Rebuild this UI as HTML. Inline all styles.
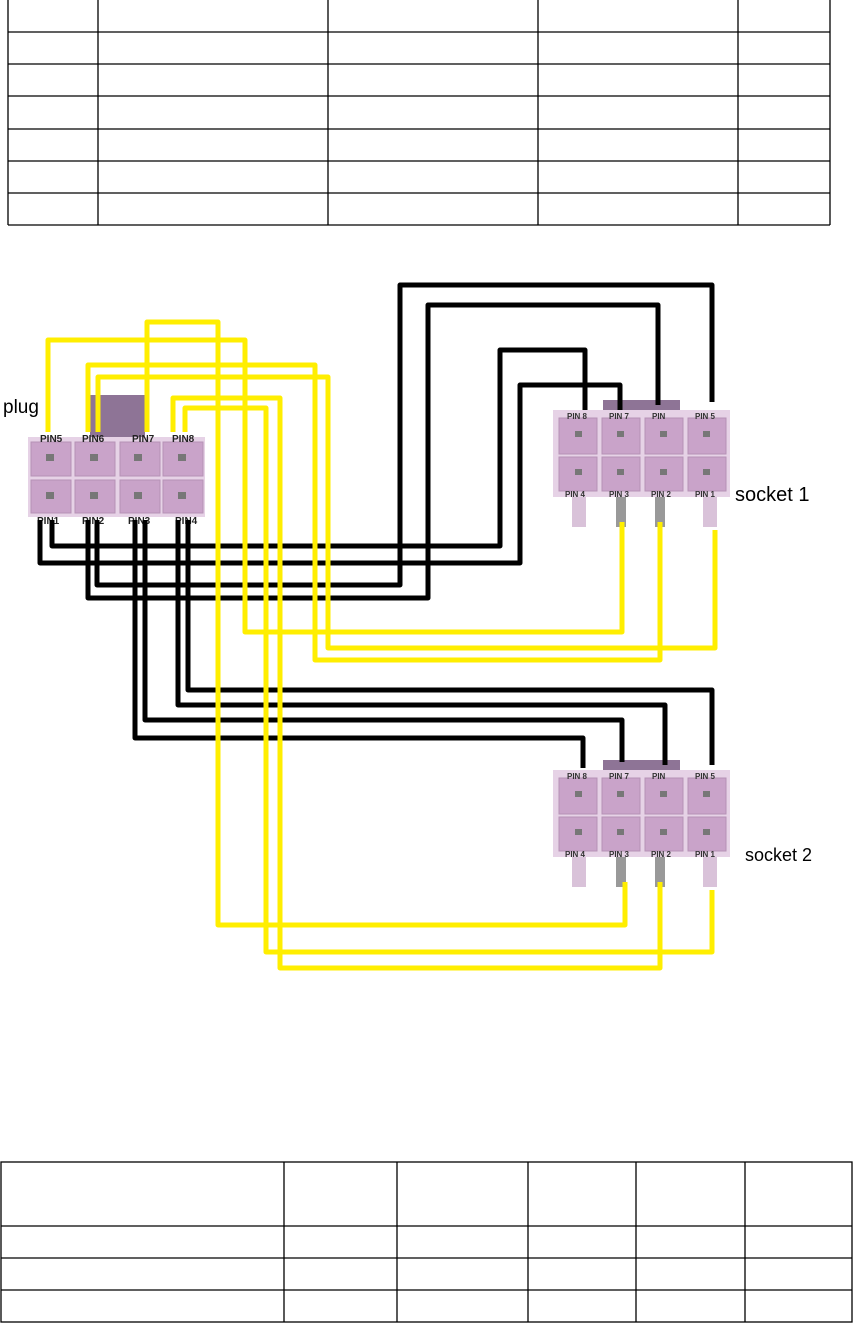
<!DOCTYPE html>
<html><head><meta charset="utf-8"><style>
body{margin:0;background:#fff;width:853px;height:1323px;overflow:hidden}
svg{display:block}
</style></head><body>
<svg width="853" height="1323" viewBox="0 0 853 1323" xmlns="http://www.w3.org/2000/svg">
<g stroke="#000" stroke-width="1.3" fill="none">
<line x1="8" y1="32" x2="830" y2="32"/><line x1="8" y1="64" x2="830" y2="64"/><line x1="8" y1="96" x2="830" y2="96"/><line x1="8" y1="129" x2="830" y2="129"/><line x1="8" y1="161" x2="830" y2="161"/><line x1="8" y1="193" x2="830" y2="193"/><line x1="8" y1="225" x2="830" y2="225"/>
<line x1="8" y1="0" x2="8" y2="225"/><line x1="98" y1="0" x2="98" y2="225"/><line x1="328" y1="0" x2="328" y2="225"/><line x1="538" y1="0" x2="538" y2="225"/><line x1="738" y1="0" x2="738" y2="225"/><line x1="830" y1="0" x2="830" y2="225"/>
<rect x="1" y="1162" width="851" height="160"/>
<line x1="1" y1="1226" x2="852" y2="1226"/><line x1="1" y1="1258" x2="852" y2="1258"/><line x1="1" y1="1290" x2="852" y2="1290"/>
<line x1="284" y1="1162" x2="284" y2="1322"/><line x1="397" y1="1162" x2="397" y2="1322"/><line x1="528" y1="1162" x2="528" y2="1322"/><line x1="636" y1="1162" x2="636" y2="1322"/><line x1="745" y1="1162" x2="745" y2="1322"/>
</g>
<!-- pins below sockets -->
<g>
<rect x="572" y="495" width="14" height="32" fill="#d9c2d9"/><rect x="616" y="495" width="10" height="32" fill="#999"/><rect x="655" y="495" width="10" height="32" fill="#999"/><rect x="703" y="495" width="14" height="32" fill="#d9c2d9"/>
<rect x="572" y="855" width="14" height="32" fill="#d9c2d9"/><rect x="616" y="855" width="10" height="32" fill="#999"/><rect x="655" y="855" width="10" height="32" fill="#999"/><rect x="703" y="855" width="14" height="32" fill="#d9c2d9"/>
</g>
<!-- plug -->
<rect x="90" y="395" width="55" height="42" fill="#8e7496"/>
<rect x="28" y="437" width="177" height="80" fill="#e6d2e6"/>
<g fill="#c9a3c9" stroke="#b592b5">
<rect x="31" y="442" width="40" height="34"/><rect x="75" y="442" width="40" height="34"/><rect x="120" y="442" width="40" height="34"/><rect x="163" y="442" width="40" height="34"/>
<rect x="31" y="480" width="40" height="33"/><rect x="75" y="480" width="40" height="33"/><rect x="120" y="480" width="40" height="33"/><rect x="163" y="480" width="40" height="33"/>
</g>
<g fill="#777"><rect x="46" y="454" width="8" height="7"/><rect x="90" y="454" width="8" height="7"/><rect x="134" y="454" width="8" height="7"/><rect x="178" y="454" width="8" height="7"/><rect x="46" y="492" width="8" height="7"/><rect x="90" y="492" width="8" height="7"/><rect x="134" y="492" width="8" height="7"/><rect x="178" y="492" width="8" height="7"/></g>
<!-- sockets -->
<g id="s">
<rect x="603" y="400" width="77" height="13" fill="#8e7496"/>
<rect x="553" y="410" width="177" height="87" fill="#e6d2e6"/>
<g fill="#c9a3c9" stroke="#b592b5">
<rect x="559" y="418" width="38" height="36"/><rect x="602" y="418" width="38" height="36"/><rect x="645" y="418" width="38" height="36"/><rect x="688" y="418" width="38" height="36"/>
<rect x="559" y="457" width="38" height="34"/><rect x="602" y="457" width="38" height="34"/><rect x="645" y="457" width="38" height="34"/><rect x="688" y="457" width="38" height="34"/>
</g>
<g fill="#777"><rect x="575" y="431" width="7" height="6"/><rect x="617" y="431" width="7" height="6"/><rect x="660" y="431" width="7" height="6"/><rect x="703" y="431" width="7" height="6"/><rect x="575" y="469" width="7" height="6"/><rect x="617" y="469" width="7" height="6"/><rect x="660" y="469" width="7" height="6"/><rect x="703" y="469" width="7" height="6"/></g>
<g font-family="Liberation Sans,sans-serif" font-size="8" font-weight="bold" fill="#333">
<text x="567" y="419">PIN 8</text><text x="609" y="419">PIN 7</text><text x="652" y="419">PIN</text><text x="695" y="419">PIN 5</text>
<text x="565" y="497">PIN 4</text><text x="609" y="497">PIN 3</text><text x="651" y="497">PIN 2</text><text x="695" y="497">PIN 1</text>
</g>
</g>
<use href="#s" y="360"/>
<g font-family="Liberation Sans,sans-serif" font-size="10" font-weight="bold" fill="#222">
<text x="40" y="442">PIN5</text><text x="82" y="442">PIN6</text><text x="132" y="442">PIN7</text><text x="172" y="442">PIN8</text>
<text x="37" y="524">PIN1</text><text x="82" y="524">PIN2</text><text x="128" y="524">PIN3</text><text x="175" y="524">PIN4</text>
</g>
<!-- black wires -->
<g stroke="#000" stroke-width="5" fill="none" stroke-linejoin="round">
<polyline points="52,520 52,546 500,546 500,350 585,350 585,410"/>
<polyline points="40,520 40,563 520,563 520,385 620,385 620,410"/>
<polyline points="97,520 97,585 400,585 400,285 712,285 712,402"/>
<polyline points="88,520 88,598 428,598 428,305 658,305 658,405"/>
<polyline points="135,520 135,738 583,738 583,768"/>
<polyline points="145,520 145,720 622,720 622,762"/>
<polyline points="178,520 178,705 665,705 665,765"/>
<polyline points="188,520 188,690 712,690 712,765"/>
</g>
<!-- yellow wires -->
<g stroke="#ffee00" stroke-width="5" fill="none" stroke-linejoin="round">
<polyline points="48,432 48,340 245,340 245,632 622,632 622,522"/>
<polyline points="88,432 88,365 315,365 315,660 660,660 660,522"/>
<polyline points="98,432 98,377 328,377 328,648 715,648 715,530"/>
<polyline points="147,432 147,322 218,322 218,925 625,925 625,882"/>
<polyline points="173,432 173,398 280,398 280,968 660,968 660,882"/>
<polyline points="185,432 185,408 266,408 266,952 712,952 712,890"/>
</g>
<g font-family="Liberation Sans,sans-serif" fill="#000">
<text x="3" y="413" font-size="19">plug</text>
<text x="735" y="501" font-size="20">socket 1</text>
<text x="745" y="861" font-size="18">socket 2</text>
</g>
</svg>
</body></html>
